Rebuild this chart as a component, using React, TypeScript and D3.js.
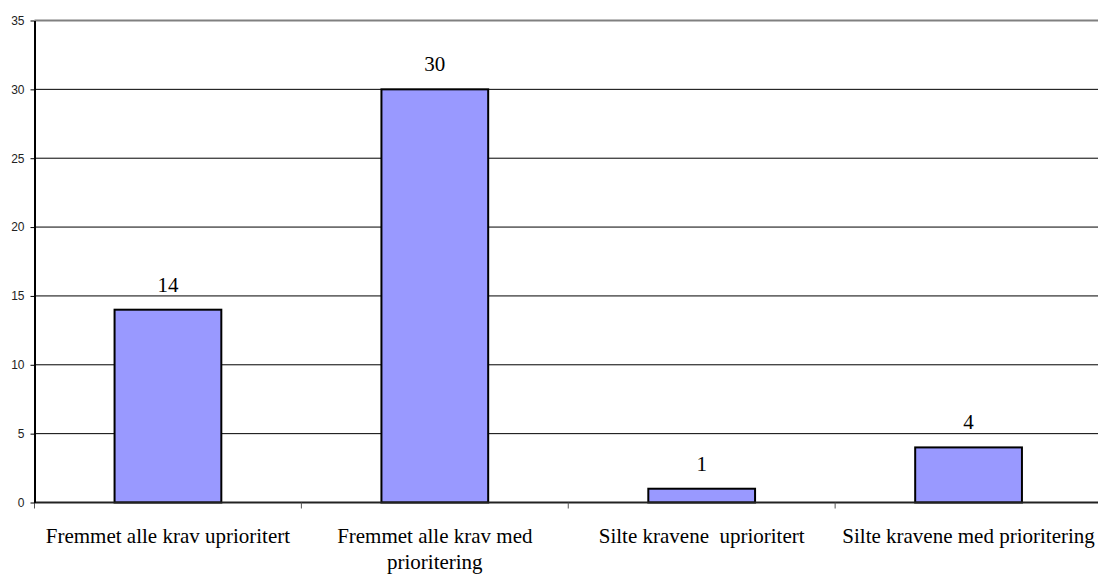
import React, { useEffect, useRef } from 'react';
import { axisLeft, range, scaleBand, scaleLinear, select } from 'd3';

const kategorier = [
  'Fremmet alle krav uprioritert',
  'Fremmet alle krav med prioritering',
  'Silte kravene  uprioritert',
  'Silte kravene med prioritering',
];
const antall = [14, 30, 1, 4];
const yTicks = [0, 5, 10, 15, 20, 25, 30, 35];

const W = 1098;
const H = 574;
const margin = { top: 20.5, left: 34.5, bottom: 71.5 };
const plotRight = 1102;

const App: React.FC = () => {
  const svgRef = useRef<SVGSVGElement>(null);

  useEffect(() => {
    const svg = select(svgRef.current);
    svg.selectAll('*').remove();

    const height = H - margin.top - margin.bottom;
    const x = scaleBand<string>().domain(kategorier).range([margin.left, plotRight]).padding(0);
    const y = scaleLinear().domain([0, 35]).range([margin.top + height, margin.top]);
    const bw = x.bandwidth();

    // gridlines
    svg
      .append('g')
      .selectAll('line')
      .data(yTicks.filter((t) => t > 0 && t < 35))
      .join('line')
      .attr('x1', margin.left)
      .attr('x2', plotRight)
      .attr('y1', (d) => y(d))
      .attr('y2', (d) => y(d))
      .attr('stroke', '#000')
      .attr('stroke-width', 1);

    // top border of plot area
    svg
      .append('line')
      .attr('x1', margin.left)
      .attr('x2', plotRight)
      .attr('y1', y(35))
      .attr('y2', y(35))
      .attr('stroke', '#808080')
      .attr('stroke-width', 2);

    // bars
    svg
      .append('g')
      .selectAll('rect')
      .data(antall)
      .join('rect')
      .attr('x', (d, i) => (x(kategorier[i]) as number) + bw * 0.3)
      .attr('y', (d) => y(d))
      .attr('width', bw * 0.4)
      .attr('height', (d) => y(0) - y(d))
      .attr('fill', '#9999ff')
      .attr('stroke', '#000')
      .attr('stroke-width', 2);

    // value labels
    svg
      .append('g')
      .selectAll('text')
      .data(antall)
      .join('text')
      .attr('x', (d, i) => (x(kategorier[i]) as number) + bw / 2)
      .attr('y', (d) => y(d) - 18)
      .attr('text-anchor', 'middle')
      .style('font-family', '"Liberation Serif", "Times New Roman", serif')
      .style('font-size', '21px')
      .attr('fill', '#000')
      .text((d) => d);

    // x axis line + ticks
    svg
      .append('line')
      .attr('x1', margin.left)
      .attr('x2', plotRight)
      .attr('y1', y(0))
      .attr('y2', y(0))
      .attr('stroke', '#222')
      .attr('stroke-width', 2);
    svg
      .append('g')
      .selectAll('line')
      .data(range(kategorier.length))
      .join('line')
      .attr('x1', (i) => x(kategorier[i]) as number)
      .attr('x2', (i) => x(kategorier[i]) as number)
      .attr('y1', y(0))
      .attr('y2', y(0) + 6)
      .attr('stroke', '#555')
      .attr('stroke-width', 1);

    // category labels with wrapping
    const lbl = svg
      .append('g')
      .selectAll('text')
      .data(kategorier)
      .join('text')
      .attr('x', (d) => (x(d) as number) + bw / 2)
      .attr('y', 542.5)
      .attr('text-anchor', 'middle')
      .style('font-family', '"Liberation Serif", "Times New Roman", serif')
      .style('font-size', '21px')
      .style('white-space', 'pre')
      .attr('fill', '#000');

    lbl.each(function (d) {
      const t = select(this);
      const words = d.split(' ');
      const cx = (x(d) as number) + bw / 2;
      let line: string[] = [];
      let lineNo = 0;
      let tspan = t.append('tspan').attr('x', cx).attr('dy', 0);
      words.forEach((w) => {
        line.push(w);
        tspan.text(line.join(' '));
        if ((tspan.node() as SVGTSpanElement).getComputedTextLength() > bw - 4 && line.length > 1) {
          line.pop();
          tspan.text(line.join(' '));
          line = [w];
          lineNo++;
          tspan = t.append('tspan').attr('x', cx).attr('dy', 26).text(w);
        }
      });
    });

    // y axis
    const yAxis = svg
      .append('g')
      .attr('transform', `translate(${margin.left},0)`)
      .call(axisLeft(y).tickValues(yTicks).tickSize(4).tickPadding(6).tickSizeOuter(0));
    yAxis.select('.domain').attr('stroke', '#000').attr('stroke-width', 2);
    yAxis.selectAll('.tick line').attr('stroke', '#000');
    yAxis
      .selectAll('.tick text')
      .style('font-family', '"Liberation Sans", Arial, sans-serif')
      .style('font-size', '12px')
      .attr('fill', '#222');
  }, []);

  return (
    <svg
      ref={svgRef}
      width={W}
      height={H}
      style={{ position: 'absolute', left: 0, top: 0, background: '#fff' }}
    />
  );
};

export default App;
